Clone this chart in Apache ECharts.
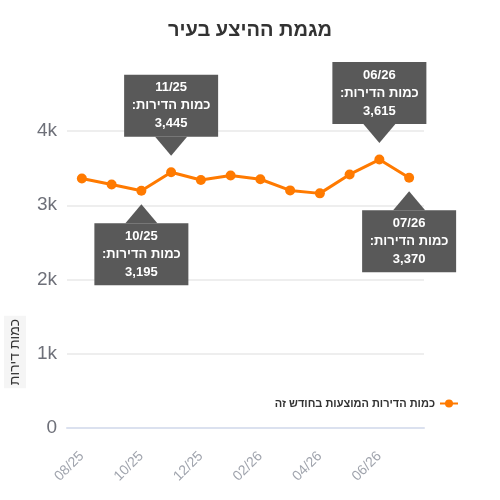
<!DOCTYPE html>
<html lang="he">
<head>
    <meta charset="utf-8">
    <title>מגמת ההיצע בעיר</title>
    <script src="https://cdn.jsdelivr.net/npm/echarts@6/dist/echarts.min.js"></script>
    <style>
        html, body { margin: 0; padding: 0; background: #fff; }
        #main { width: 500px; height: 500px; }
    </style>
</head>
<body>
<div id="main"></div>
<script>
    // נתונים
    var months = ['08/25', '09/25', '10/25', '11/25', '12/25', '01/26', '02/26', '03/26', '04/26', '05/26', '06/26', '07/26'];
    var counts = [3360, 3280, 3195, 3445, 3340, 3400, 3350, 3200, 3160, 3415, 3615, 3370];
    var calloutAbove = ['11/25', '06/26'];
    var calloutBelow = ['10/25', '07/26'];
    var seriesName = 'כמות הדירות המוצעות בחודש זה';
    var yName = 'כמות דירות';

    var FONT = 'Liberation Sans';
    var ORANGE = '#ff7a00';
    var BOX = '#595959';

    function fmt(n) {
        return n.toLocaleString('en-US');
    }

    // בועות הסבר עם חץ
    function callout(month, above) {
        var v = counts[months.indexOf(month)];
        return {
            coord: [month, v],
            value: v,
            symbol: 'triangle',
            symbolSize: [32, 19],
            symbolRotate: above ? 180 : 0,
            symbolOffset: [0, above ? -26 : 23],
            itemStyle: { color: BOX },
            label: {
                show: true,
                position: above ? 'top' : 'bottom',
                distance: 0,
                formatter: month + '\nכמות הדירות:\u200F\n' + fmt(v),
                backgroundColor: BOX,
                color: '#fff',
                fontFamily: FONT,
                fontWeight: 'bold',
                fontSize: 13,
                lineHeight: 18,
                width: 78,
                align: 'center',
                padding: [4, 8, 4, 8]
            }
        };
    }

    var marks = [];
    calloutAbove.forEach(function (m) { marks.push(callout(m, true)); });
    calloutBelow.forEach(function (m) { marks.push(callout(m, false)); });

    var myChart = echarts.init(document.getElementById('main'));
    var option = {
        animation: false,
        title: {
            text: 'מגמת ההיצע בעיר',
            left: 'center',
            top: 15,
            textStyle: { fontFamily: FONT, fontSize: 20, fontWeight: 'bold', color: '#333' }
        },
        legend: {
            right: 36,
            top: 393,
            align: 'right',
            itemWidth: 18,
            itemHeight: 10,
            textStyle: { fontFamily: FONT, fontSize: 11, fontWeight: 'bold', color: '#333' },
            data: [seriesName]
        },
        grid: { left: 67, right: 76, top: 131, bottom: 72 },
        xAxis: {
            type: 'category',
            data: months,
            boundaryGap: true,
            axisLine: { lineStyle: { color: '#dbe1ef', width: 2 } },
            axisTick: { alignWithLabel: true, interval: 1, length: 13, lineStyle: { color: '#dbe1ef', width: 2 } },
            axisLabel: { interval: 1, rotate: 45, margin: 26, color: '#a0a4ad', fontFamily: FONT, fontSize: 14 }
        },
        yAxis: {
            type: 'value',
            min: 0,
            max: 4000,
            interval: 1000,
            axisLine: { show: false },
            axisTick: { show: false },
            splitLine: { lineStyle: { color: '#eeeeee', width: 2 } },
            axisLabel: {
                margin: 10,
                color: '#6e7079',
                fontFamily: FONT,
                fontSize: 19,
                formatter: function (v) { return v === 0 ? '0' : (v / 1000) + 'k'; }
            }
        },
        graphic: [{
            type: 'text',
            x: 15,
            y: 352,
            rotation: Math.PI / 2,
            style: {
                text: yName,
                fontFamily: FONT,
                fontSize: 14,
                fill: '#333',
                align: 'center',
                verticalAlign: 'middle',
                backgroundColor: '#f5f5f5',
                padding: [4, 3, 4, 3]
            }
        }],
        series: [{
            name: seriesName,
            type: 'line',
            data: counts,
            symbol: 'circle',
            symbolSize: 10,
            lineStyle: { color: ORANGE, width: 3 },
            itemStyle: { color: ORANGE },
            markPoint: { data: marks }
        }]
    };
    myChart.setOption(option);
</script>
</body>
</html>
